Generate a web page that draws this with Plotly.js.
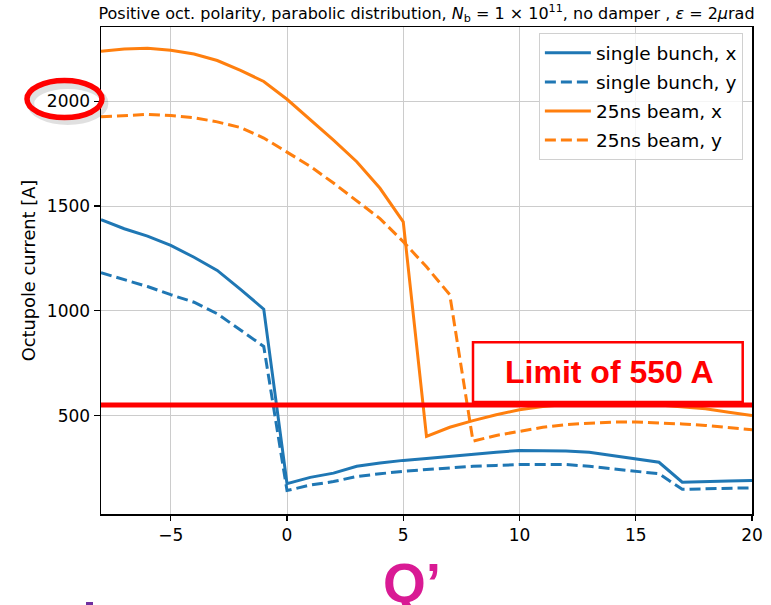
<!DOCTYPE html>
<html>
<head>
<meta charset="utf-8">
<script src="https://cdn.plot.ly/plotly-3.0.1.min.js"></script>
<style>
  html, body { margin: 0; padding: 0; background: #ffffff; }
  #chart { width: 771px; height: 605px; }
</style>
</head>
<body>
<div id="chart"></div>
<script>
// Chromaticity Q' scan
const chroma = [-8, -7, -6, -5, -4, -3, -2, -1, 0, 1, 2, 3, 4, 5, 6, 7, 8, 9, 10, 11, 12, 13, 14, 15, 16, 17, 18, 19, 20];

// Octupole current needed for stability [A]
const singleBunchX = [1435, 1392, 1357, 1312, 1256, 1193, 1102, 1008, 175, 205, 225, 258, 273, 286, 295, 306, 317, 325, 333, 333, 331, 325, 309, 293, 277, 182, 183, 187, 190];
const singleBunchY = [1182, 1148, 1116, 1077, 1041, 986, 906, 830, 142, 168, 185, 209, 222, 234, 242, 250, 258, 262, 266, 266, 266, 258, 246, 234, 222, 148, 150, 154, 155];
const beam25nsX = [2239, 2250, 2253, 2244, 2226, 2195, 2148, 2095, 2010, 1912, 1815, 1712, 1585, 1425, 401, 444, 476, 504, 528, 543, 553, 556, 556, 555, 550, 540, 532, 516, 500];
const beam25nsY = [1926, 1933, 1938, 1932, 1922, 1902, 1875, 1825, 1758, 1690, 1610, 1525, 1440, 1330, 1210, 1077, 378, 405, 424, 444, 457, 464, 469, 469, 465, 460, 453, 443, 432];

const seriesNames = ['single bunch, x', 'single bunch, y', '25ns beam, x', '25ns beam, y'];
const limitCurrent = 550;
const limitLabel = 'Limit of 550 A';

const blue = '#1f77b4';
const orange = '#ff7f0e';
const dashPattern = '11px,5px';

function trace(y, name, color, dash, group) {
  return {
    x: chroma, y: y, name: name, type: 'scatter', mode: 'lines',
    line: { color: color, width: 3, dash: dash },
    legendgroup: group, hoverinfo: 'skip'
  };
}

const data = [
  trace(singleBunchX, seriesNames[0], blue, 'solid', 'g1'),
  trace(singleBunchY, seriesNames[1], blue, dashPattern, 'g2'),
  trace(beam25nsX, seriesNames[2], orange, 'solid', 'g3'),
  trace(beam25nsY, seriesNames[3], orange, dashPattern, 'g4')
];

const font = 'DejaVu Sans, sans-serif';
const boldFont = 'Liberation Sans, Arial, sans-serif';

const layout = {
  width: 771, height: 605,
  margin: { l: 101, r: 19, t: 27, b: 91 },
  paper_bgcolor: '#ffffff', plot_bgcolor: '#ffffff',
  showlegend: true,
  title: {
    text: 'Positive oct. polarity, parabolic distribution, <i>N</i><sub>b</sub> = 1 × 10<sup>11</sup>, no damper , <i>ε</i> = 2<i>μ</i>rad',
    font: { family: font, size: 16, color: '#000000' },
    x: 0.5, xref: 'paper', xanchor: 'center',
    y: 1 - 13 / 605, yref: 'container', yanchor: 'middle'
  },
  xaxis: {
    range: [-8, 20], tick0: 0, dtick: 5,
    showgrid: true, gridcolor: '#cccccc', gridwidth: 1,
    zeroline: false,
    showline: true, linecolor: '#000000', linewidth: 1.5, mirror: true,
    ticks: 'outside', ticklen: 5, tickwidth: 1.2, tickcolor: '#000000',
    tickfont: { family: font, size: 17, color: '#000000' },
    fixedrange: true
  },
  yaxis: {
    range: [30, 2355], tick0: 0, dtick: 500,
    showgrid: true, gridcolor: '#cccccc', gridwidth: 1,
    zeroline: false,
    showline: true, linecolor: '#000000', linewidth: 1.5, mirror: true,
    ticks: 'outside', ticklen: 6, tickwidth: 1.2, tickcolor: '#000000',
    tickfont: { family: font, size: 17, color: '#000000' },
    title: { text: 'Octupole current [A]', font: { family: font, size: 17.8, color: '#000000' }, standoff: 6 },
    fixedrange: true
  },
  legend: {
    x: 0.986, y: 0.987, xanchor: 'right', yanchor: 'top',
    bgcolor: 'rgba(255,255,255,0.8)', bordercolor: '#d0d0d0', borderwidth: 1,
    font: { family: font, size: 18.5, color: '#000000' },
    traceorder: 'grouped', tracegroupgap: 2, itemwidth: 46
  },
  shapes: [
    // operational limit of the octupole current
    { type: 'line', xref: 'paper', yref: 'y', x0: 0, x1: 1, y0: limitCurrent, y1: limitCurrent,
      line: { color: '#ff0000', width: 5 }, layer: 'above' },
    // frame around the limit label
    { type: 'rect', xref: 'x', yref: 'y', x0: 8.0, x1: 19.6, y0: 565, y1: 850,
      line: { color: '#ff0000', width: 2.5 }, fillcolor: 'rgba(0,0,0,0)', layer: 'above' },
    // soft shadow under the highlight ring
    { type: 'circle', xref: 'paper', yref: 'paper', x0: -0.108, x1: 0.006, y0: 0.806, y1: 0.880,
      line: { color: 'rgba(0,0,0,0.12)', width: 7 }, layer: 'above' },
    // highlight ring around the 2000 A label
    { type: 'circle', xref: 'paper', yref: 'paper', x0: -0.1137, x1: 0.0015, y0: 0.814, y1: 0.890,
      line: { color: '#ff0000', width: 5.5 }, layer: 'above' },
    // small mark at the lower left
    { type: 'rect', xref: 'paper', yref: 'paper', x0: -0.023, x1: -0.0123, y0: -0.1869, y1: -0.1807,
      line: { width: 0 }, fillcolor: '#7030a0', layer: 'above' }
  ],
  annotations: [
    { text: '<b>' + limitLabel + '</b>', xref: 'x', yref: 'y', x: 13.85, y: 708,
      showarrow: false, xanchor: 'center', yanchor: 'middle',
      font: { family: boldFont, size: 32, color: '#ff0000' } },
    { text: '<b>Q’</b>', xref: 'paper', yref: 'paper', x: 0.478, y: -0.142,
      showarrow: false, xanchor: 'center', yanchor: 'middle',
      font: { family: boldFont, size: 55, color: '#d91a94' } }
  ]
};

Plotly.newPlot('chart', data, layout, { staticPlot: true, displayModeBar: false });
</script>
</body>
</html>
